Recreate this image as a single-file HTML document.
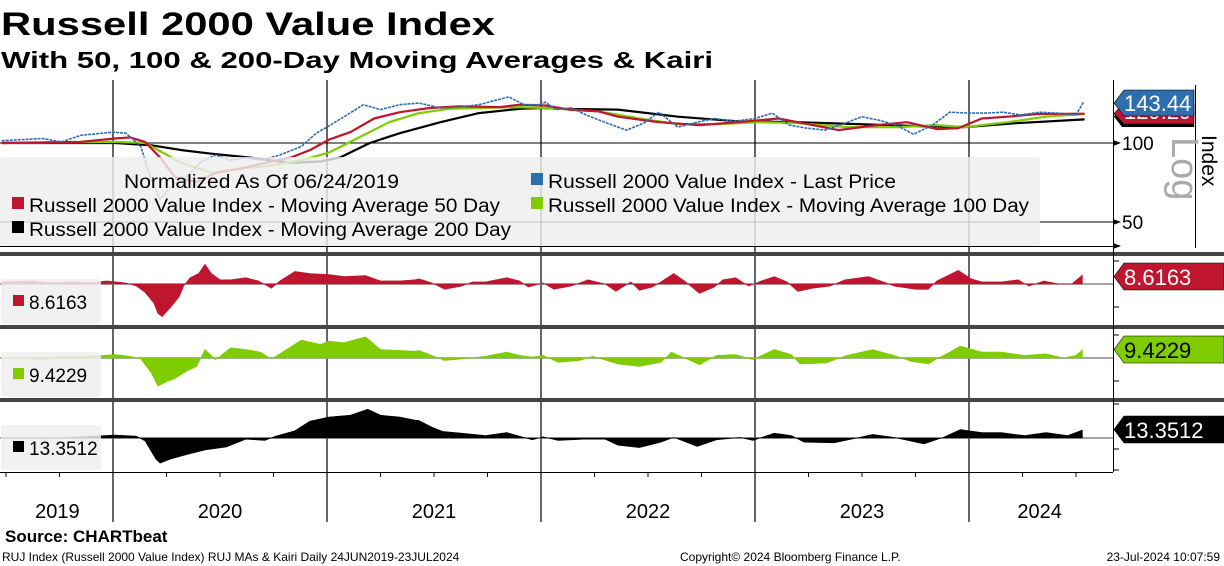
<!DOCTYPE html>
<html><head><meta charset="utf-8">
<style>
html,body{margin:0;padding:0;background:#fff;}
svg{display:block;font-family:"Liberation Sans","DejaVu Sans",sans-serif;}
</style></head>
<body>
<svg id="chart" width="1224" height="566" viewBox="0 0 1224 566" xmlns="http://www.w3.org/2000/svg">
<text x="1" y="35" font-size="32" font-weight="bold" textLength="494" lengthAdjust="spacingAndGlyphs">Russell 2000 Value Index</text>
<text x="1" y="68" font-size="23" font-weight="bold" textLength="712" lengthAdjust="spacingAndGlyphs">With 50, 100 &amp; 200-Day Moving Averages &amp; Kairi</text>
<g id="grid"></g>
<g id="series"></g>
<g id="legend">
<rect x="0" y="157" width="1040" height="89" fill="rgba(238,238,238,0.82)" rx="3"/>
<text x="124" y="188" font-size="19" textLength="275" lengthAdjust="spacingAndGlyphs">Normalized As Of 06/24/2019</text>
<rect x="531" y="173" width="12" height="12" fill="#2e6ead"/>
<text x="548" y="188" font-size="19" textLength="348" lengthAdjust="spacingAndGlyphs">Russell 2000 Value Index - Last Price</text>
<rect x="12" y="197" width="12" height="12" fill="#c0152f"/>
<text x="29" y="212" font-size="19" textLength="471" lengthAdjust="spacingAndGlyphs">Russell 2000 Value Index - Moving Average 50 Day</text>
<rect x="531" y="197" width="12" height="12" fill="#7fcc00"/>
<text x="548" y="212" font-size="19" textLength="481" lengthAdjust="spacingAndGlyphs">Russell 2000 Value Index - Moving Average 100 Day</text>
<rect x="12" y="221" width="12" height="12" fill="#000"/>
<text x="29" y="236" font-size="19" textLength="482" lengthAdjust="spacingAndGlyphs">Russell 2000 Value Index - Moving Average 200 Day</text>
</g>
<g id="axes"></g>
</svg>
<script>
// ---- data (dates in decimal years) ----
const priceDates=[2019.48,2019.67,2019.76,2019.85,2019.95,2020.0,2020.06,2020.13,2020.18,2020.22,2020.27,2020.34,2020.41,2020.48,2020.55,2020.62,2020.69,2020.78,2020.88,2020.95,2021.0,2021.08,2021.17,2021.25,2021.34,2021.43,2021.53,2021.62,2021.71,2021.85,2021.92,2021.99,2022.02,2022.07,2022.14,2022.22,2022.31,2022.4,2022.48,2022.55,2022.64,2022.73,2022.81,2022.9,2023.0,2023.08,2023.16,2023.24,2023.33,2023.42,2023.5,2023.58,2023.66,2023.74,2023.83,2023.91,2024.0,2024.08,2024.16,2024.24,2024.33,2024.41,2024.5,2024.535];
const priceVals=[102,104,101,107,109,110,109,97,72,61,68,74,84.7,90,86,88,86,90,97,109,115,126,140,134,140,142,136,137,140,150,140,140,143,134,136,127,119,112,119,131,115,120,124,121,124,130,117,114,112,119,126,122,117,108,117,131,130,130,131,128,131,130,128,143.44];
const ma50Dates=[2019.48,2019.85,2020.01,2020.08,2020.15,2020.22,2020.29,2020.39,2020.48,2020.60,2020.71,2020.83,2020.92,2021.01,2021.11,2021.22,2021.34,2021.48,2021.62,2021.81,2021.90,2022.02,2022.13,2022.27,2022.36,2022.55,2022.74,2022.92,2023.11,2023.20,2023.39,2023.57,2023.71,2023.85,2023.95,2024.06,2024.18,2024.32,2024.54];
const ma50Vals=[100,101,104,105,101,88,74,71,77,80,84,88,94,103,110,124,131,136,138,137,140,139,134,132,126,120,117,120,124,120,112,117,120,113,114,124,126,129,129.29];
const ma100Dates=[2019.48,2020.01,2020.15,2020.32,2020.46,2020.60,2020.74,2020.88,2021.01,2021.15,2021.29,2021.43,2021.57,2021.71,2021.90,2022.02,2022.27,2022.46,2022.64,2022.83,2023.02,2023.20,2023.43,2023.67,2023.85,2023.98,2024.18,2024.36,2024.54];
const ma100Vals=[100,101,100,84,77,80,82,86,92,105,120,130,135,136,137,136,132,124,118,118,120,119,115,115,117,115,120,126,129];
const ma200Dates=[2019.48,2020.01,2020.18,2020.32,2020.46,2020.64,2020.83,2020.97,2021.06,2021.20,2021.34,2021.53,2021.71,2021.90,2022.00,2022.08,2022.36,2022.64,2022.92,2023.20,2023.48,2023.76,2023.98,2024.22,2024.54];
const ma200Vals=[100,100,98,94,91,88,84,85,88,100,109,120,130,135,136,135,134,126,121,120,118,116,115,119,123];
const k50Dates=[2019.48,2019.62,2019.71,2019.81,2019.90,2019.97,2020.06,2020.11,2020.15,2020.19,2020.21,2020.23,2020.27,2020.31,2020.33,2020.36,2020.40,2020.43,2020.46,2020.50,2020.55,2020.62,2020.68,2020.74,2020.78,2020.85,2020.92,2021.01,2021.08,2021.18,2021.25,2021.34,2021.41,2021.43,2021.49,2021.55,2021.63,2021.68,2021.74,2021.84,2021.90,2021.94,2022.01,2022.06,2022.14,2022.22,2022.30,2022.35,2022.42,2022.46,2022.52,2022.56,2022.62,2022.67,2022.74,2022.81,2022.85,2022.91,2022.97,2023.03,2023.09,2023.15,2023.20,2023.27,2023.35,2023.42,2023.53,2023.60,2023.65,2023.75,2023.81,2023.85,2023.95,2024.01,2024.06,2024.15,2024.23,2024.28,2024.35,2024.42,2024.48,2024.53];
const k50Vals=[2,3,1,2,1,3,1,-2,-8,-18,-28,-31,-22,-12,-2,6,10,19,10,4,4,6,3,-4,3,12,10,9,7,8,3,3,4,5,1,-5,-2,2,2,6,3,-3,1,-5,-2,4,0,-7,2,-6,-3,2,10,3,-9,-3,4,6,-2,3,7,2,-7,-4,-2,4,7,2,-2,-5,-5,3,13,5,2,2,4,-2,3,0,0,8.6163];
const k100Dates=[2019.48,2019.67,2019.76,2019.85,2019.95,2020.01,2020.08,2020.13,2020.18,2020.21,2020.25,2020.29,2020.34,2020.39,2020.43,2020.48,2020.55,2020.62,2020.69,2020.74,2020.78,2020.88,2020.97,2021.01,2021.08,2021.18,2021.25,2021.34,2021.41,2021.43,2021.49,2021.55,2021.63,2021.74,2021.84,2021.90,2021.96,2022.01,2022.08,2022.18,2022.24,2022.36,2022.46,2022.56,2022.61,2022.68,2022.74,2022.82,2022.91,2022.99,2023.09,2023.17,2023.21,2023.33,2023.43,2023.55,2023.65,2023.73,2023.81,2023.85,2023.91,2023.96,2024.06,2024.15,2024.26,2024.36,2024.44,2024.50,2024.53];
const k100Vals=[1,-2,2,2,3,4,2,-1,-18,-33,-28,-24,-16,-10,10,-2,12,10,7,-1,5,21,16,20,18,25,10,9,8,9,3,-3,-1,2,7,3,1,3,-5,-3,2,-7,-10,-5,7,-1,-8,3,4,-2,10,4,-7,-6,3,10,3,-4,-7,-1,7,14,7,7,3,5,0,3,9.4229];
const k200Dates=[2019.48,2019.67,2019.85,2020.01,2020.11,2020.15,2020.20,2020.22,2020.27,2020.34,2020.43,2020.53,2020.62,2020.71,2020.76,2020.85,2020.92,2021.01,2021.11,2021.19,2021.25,2021.34,2021.41,2021.43,2021.49,2021.54,2021.63,2021.74,2021.84,2021.92,2021.96,2022.01,2022.08,2022.20,2022.30,2022.36,2022.46,2022.56,2022.62,2022.73,2022.82,2022.93,2022.99,2023.09,2023.17,2023.23,2023.37,2023.45,2023.55,2023.65,2023.79,2023.88,2023.96,2024.06,2024.15,2024.26,2024.36,2024.46,2024.53];
const k200Vals=[1,-1,2,5,3,-5,-35,-42,-35,-28,-20,-15,-2,-4,3,12,28,35,38,48,38,35,30,29,18,11,8,4,9,1,-3,2,-4,-2,-2,-12,-16,-7,1,-14,-3,1,-4,8,4,-7,-8,-2,6,1,-10,1,14,9,9,4,9,4,13.3512];
const yearLabels=["2019","2020","2021","2022","2023","2024"];
const yearStarts=[2020,2021,2022,2023,2024];
const idxTicks=[100,50];

// ---- scales ----
const T0=2019.472, PXYR=214;
function xS(t){return (t-T0)*PXYR;}
function yPrice(v){return 143-79*Math.log2(v/100);}
function yK50(v){return 284-1.05*v;}
function yK100(v){return 358-0.85*v;}
function yK200(v){return 438-0.6*v;}
const NS="http://www.w3.org/2000/svg";
function mk(tag,attrs,parent){const e=document.createElementNS(NS,tag);for(const k in attrs)e.setAttribute(k,attrs[k]);parent.appendChild(e);return e;}
const grid=document.getElementById('grid'),series=document.getElementById('series'),axes=document.getElementById('axes');

const defs=mk('defs',{},series);
const cp=mk('clipPath',{id:'topclip'},defs);mk('rect',{x:0,y:80,width:1113,height:168},cp);

idxTicks.forEach(v=>{const l=mk('line',{x1:0,x2:1113,y1:yPrice(v),y2:yPrice(v),stroke:'#000','stroke-width':1},grid);

});
mk('line',{x1:0,x2:1113,y1:246.5,y2:246.5,stroke:'#000','stroke-width':1},grid);
yearStarts.forEach(y=>{const l=mk('line',{x1:xS(y),x2:xS(y),y1:80,y2:522,stroke:'#000','stroke-width':1.2},grid);

});
[[284,'k50'],[358,'k100'],[438,'k200']].forEach(z=>{const l=mk('line',{x1:0,x2:1113,y1:z[0],y2:z[0],stroke:'#888','stroke-width':1.5},grid);

});

function linePath(ds,vs,yf){return ds.map((d,i)=>(i?'L':'M')+xS(d).toFixed(1)+','+yf(vs[i]).toFixed(1)).join('');}
const gTop=mk('g',{'clip-path':'url(#topclip)'},series);
[[ma200Dates,ma200Vals,'#000','ma200-line'],[ma100Dates,ma100Vals,'#7fcc00','ma100-line'],[ma50Dates,ma50Vals,'#c0152f','ma50-line']].forEach(s=>{
const p=mk('path',{d:linePath(s[0],s[1],yPrice),fill:'none',stroke:s[2],'stroke-width':2.2,'stroke-linejoin':'round'},gTop);

});
const pl=mk('path',{d:linePath(priceDates,priceVals,yPrice),fill:'none',stroke:'#2e6ead','stroke-width':1.6,'stroke-dasharray':'3 1'},gTop);



function areaPath(ds,vs,yf,y0){let d='M'+xS(ds[0]).toFixed(1)+','+y0;ds.forEach((t,i)=>{d+='L'+xS(t).toFixed(1)+','+yf(vs[i]).toFixed(1);});d+='L'+xS(ds[ds.length-1]).toFixed(1)+','+y0+'Z';return d;}
[[k50Dates,k50Vals,yK50,284,'#c0152f','kairi50-area'],[k100Dates,k100Vals,yK100,358,'#7fcc00','kairi100-area'],[k200Dates,k200Vals,yK200,438,'#000','kairi200-area']].forEach(s=>{
const p=mk('path',{d:areaPath(s[0],s[1],s[2],s[3]),fill:s[4],stroke:s[4],'stroke-width':0.6},series);

});

[252,325,398].forEach(y=>{const r=mk('rect',{x:0,y:y,width:1224,height:4,fill:'#444'},axes);

});
mk('line',{x1:0,x2:1113,y1:472.5,y2:472.5,stroke:'#000','stroke-width':1},axes);
mk('line',{x1:1113.5,x2:1113.5,y1:80,y2:472,stroke:'#000','stroke-width':1},axes);
mk('line',{x1:1195.5,x2:1195.5,y1:85,y2:248,stroke:'#000','stroke-width':1},axes);

idxTicks.concat([35]).forEach(v=>{const y=v===35?246:yPrice(v);mk('path',{d:`M1113,${y-3}L1121,${y}L1113,${y+3}Z`,fill:'#000'},axes);
if(v!==35){const t=mk('text',{x:1122,y:y+7,'font-size':19},axes);t.textContent=v;

}});
[261,307,335,381,404,449,470].forEach(y=>mk('line',{x1:1113,x2:1119,y1:y,y2:y,stroke:'#000'},axes));
const lg=mk('text',{x:0,y:0,'font-size':38,fill:'#aaa',transform:'translate(1172,137) rotate(90)'},axes);lg.textContent='Log';


const ix=mk('text',{x:0,y:0,'font-size':21,transform:'translate(1202,135) rotate(90)'},axes);ix.textContent='Index';



function tag(y,h,fill,txtCol,txt,w,name,shadow){const g=mk('g',{},axes);


if(shadow)mk('path',{d:`M1122,${y+3}L1194,${y+3}L1194,${y+h+3}L1122,${y+h+3}L1114,${y+h/2+3}Z`,fill:'#000'},g);
mk('path',{d:`M1124,${y}L${1113+w},${y}L${1113+w},${y+h}L1124,${y+h}L1114,${y+h/2}Z`,fill:fill,stroke:'#000','stroke-width':0.6},g);
const t=mk('text',{x:1124,y:y+h-5,'font-size':22,fill:txtCol},g);t.textContent=txt;return g;}
tag(103,21,'#c0152f','#fff',ma50Vals[ma50Vals.length-1].toFixed(2),81,'ma50-value-tag',true);
tag(90,26,'#2e6ead','#fff',priceVals[priceVals.length-1].toFixed(2),81,'last-price-value-tag',false);
tag(263,27,'#c0152f','#fff',k50Vals[k50Vals.length-1].toFixed(4),111,'kairi50-value-tag',false);
tag(336,27,'#7fcc00','#000',k100Vals[k100Vals.length-1].toFixed(4),111,'kairi100-value-tag',false);
tag(416,27,'#000','#fff',k200Vals[k200Vals.length-1].toFixed(4),111,'kairi200-value-tag',false);

[[279,'#c0152f',k50Vals,'kairi50-legend'],[352,'#7fcc00',k100Vals,'kairi100-legend'],[425,'#000',k200Vals,'kairi200-legend']].forEach(s=>{
const g=mk('g',{},axes);


mk('rect',{x:1,y:s[0],width:100,height:45,rx:3,fill:'rgba(238,238,238,0.85)'},g);
mk('rect',{x:13,y:s[0]+16,width:11,height:11,fill:s[1]},g);
const t=mk('text',{x:29,y:s[0]+30,'font-size':19},g);t.textContent=s[2][s[2].length-1].toFixed(4);});

const labT=[2019.74,2020.5,2021.5,2022.5,2023.5,2024.33];
yearLabels.forEach((y,i)=>{const t=mk('text',{x:xS(labT[i]),y:518,'font-size':20,'text-anchor':'middle'},axes);t.textContent=y;

});
for(let m=0;m<61;m+=3){const x=xS(2019.5+m/12);mk('line',{x1:x,x2:x,y1:472,y2:477,stroke:'#000'},axes);}

const src=mk('text',{x:5,y:542,'font-size':17,'font-weight':'bold'},axes);src.textContent='Source: CHARTbeat';


const f1=mk('text',{x:2,y:561,'font-size':12},axes);f1.textContent='RUJ Index (Russell 2000 Value Index) RUJ MAs & Kairi  Daily 24JUN2019-23JUL2024';


const f2=mk('text',{x:680,y:561,'font-size':12},axes);f2.textContent='Copyright© 2024 Bloomberg Finance L.P.';


const f3=mk('text',{x:1220,y:561,'font-size':12,'text-anchor':'end'},axes);f3.textContent='23-Jul-2024 10:07:59';


</script>
</body></html>
